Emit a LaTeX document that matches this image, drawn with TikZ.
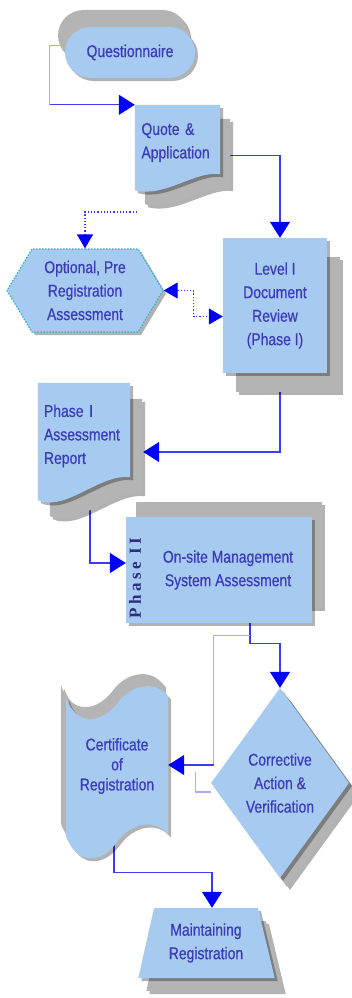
\documentclass[tikz,border=0pt]{standalone}
\usepackage{fontspec}
\setmainfont[FakeStretch=0.82, FakeBold=0.6]{Liberation Sans}
\newfontfamily\phasefont[LetterSpace=20]{Liberation Serif}
\usetikzlibrary{shapes.misc,shapes.symbols,shapes.geometric,shadows,arrows.meta,backgrounds}
\definecolor{skyblue}{HTML}{A6CAF0}
\definecolor{stackgray}{HTML}{B4B4B4}
\definecolor{ink}{HTML}{3C3CB8}
\definecolor{wireblue}{HTML}{3C3CF0}
\definecolor{faintblue}{HTML}{AAAAF5}
\definecolor{dotcyan}{HTML}{30B4C8}
\definecolor{navy}{HTML}{2C2C80}
\pgfdeclarelayer{fills}
\pgfsetlayers{background,fills,main}

\begin{document}
\begin{tikzpicture}[x=1pt, y=-1pt, >={Triangle[length=16pt,width=20pt,color=blue]},
        card/.style 2 args={fill=skyblue, inner sep=0pt, text=ink, align=center,
            font=\fontsize{17}{23.5}\selectfont,
            general shadow={shadow xshift={#1+3pt}, shadow yshift={#2-3pt}, fill=black, opacity=.3},
            general shadow={shadow xshift=#1, shadow yshift=#2, fill=stackgray},
            drop shadow={shadow xshift=3pt, shadow yshift=-3pt, fill=black, opacity=.3}},
        flat/.style={fill=skyblue, inner sep=0pt, text=ink, align=center,
            font=\fontsize{17}{23.5}\selectfont,
            drop shadow={shadow xshift=3pt, shadow yshift=-3pt, fill=black, opacity=.3}},
        doctext/.style={inner sep=0pt, text=ink, align=left, font=\fontsize{17}{23.5}\selectfont},
        wire/.style={draw=wireblue, line width=1.2pt},
        faint/.style={draw=faintblue, line width=1.2pt},
        dotwire/.style={draw=wireblue, line width=1.2pt, dotted, >={Triangle[length=14pt,width=16pt,color=blue]}}]
        \useasboundingbox (0,0) rectangle (351,998);

        \node [card={-7pt}{17pt}, rounded rectangle, minimum width=130pt, minimum height=51pt] (quest) at (130,52.5) {Questionnaire};
        \node [doctext, minimum width=85pt, minimum height=75pt, text width=72pt] (quote) at (177.5,142.5) {Quote \&\\Application};
        \node [flat, signal, signal to=west and east, signal pointer angle=118, minimum width=156pt, minimum height=83pt,
            draw=dotcyan, line width=1.2pt, dash pattern=on 1.5pt off 1.5pt] (pre) at (85,290.5) {Optional, Pre\\Registration\\Assessment};
        \node [card={13pt}{-19pt}, minimum width=104pt, minimum height=135pt] (level) at (275,305.5) {Level I\\Document\\Review\\(Phase I)};
        \node [doctext, minimum width=92pt, minimum height=106pt, text width=80pt] (report) at (84,436) {Phase I\\Assessment\\Report};
        \node [card={10pt}{15pt}, minimum width=186pt, minimum height=106pt] (onsite) at (219,570) {\hspace*{18pt}On-site Management\\\hspace*{18pt}System Assessment};
        \node [rotate=90, text=navy, font=\phasefont\bfseries\fontsize{17}{17}\selectfont] (phase2) at (135,578) {Phase II};
        \node [card={7pt}{-9pt}, diamond, minimum width=138pt, minimum height=190pt] (corr) at (280,783) {Corrective\\Action \&\\Verification};
        \node [doctext, align=center, minimum width=102pt, minimum height=138pt, font=\fontsize{17}{20}\selectfont] (cert) at (117,766) {Certificate\\of\\Registration};
        \node [card={8pt}{-13pt}, trapezium, trapezium left angle=74, trapezium right angle=73, trapezium stretches=true,
            minimum width=137pt, minimum height=70pt] (maint) at (206,943) {Maintaining\\Registration};

        \begin{pgfonlayer}{fills}
            \path [card={10pt}{-14pt}] (quote.north west) -- (quote.north east) -- ([yshift=6pt]quote.south east)
                .. controls +(-25,-4) and +(30,8) .. ([yshift=-10pt]quote.south west) -- cycle;
            \path [card={12pt}{-16pt}] (report.north west) -- (report.north east) -- ([yshift=12pt]report.south east)
                .. controls +(-30,-4) and +(28,12) .. ([yshift=-11pt]report.south west) -- cycle;
            \path [card={-5pt}{12pt}] (cert.north west) .. controls +(10,30) and +(-16,20) .. ([yshift=-7pt]cert.north)
                .. controls +(14,-20) and +(-12,-17) .. (cert.north east) -- (cert.south east)
                .. controls +(-12,-17) and +(14,-20) .. ([yshift=-7pt]cert.south)
                .. controls +(-16,22) and +(10,30) .. (cert.south west) -- cycle;
        \end{pgfonlayer}

        \begin{scope}[on background layer]
            \coordinate (qbend) at ([xshift=-15pt]quest.west |- quote.north west);
            \coordinate (optin) at (137,212);
            \coordinate (retjoin) at ([xshift=3pt,yshift=18pt]corr.west);

            \draw [faint] ([yshift=7pt]quest.west) -| (qbend);
            \draw [wire, ->] (qbend) -- (quote.north west);
            \draw [wire, ->] ([yshift=-13pt]quote.east) -| ([xshift=5pt]level.north);
            \draw [dotwire, ->] (optin) -| (pre.north);
            \draw [dotwire, <->] (pre.east) -- ++(30,0) |- ([yshift=-11pt]level.west);
            \draw [wire, ->] ([xshift=5pt]level.south) |- ([xshift=13pt,yshift=-16pt]report.east);
            \draw [wire, ->] ([xshift=6pt]report.south) |- ([yshift=7pt]onsite.west);
            \draw [wire, ->] ([xshift=31pt]onsite.south) -- ++(0,20) -| (corr.north);
            \draw [faint] ([xshift=31pt,yshift=-12pt]onsite.south) -| (retjoin);
            \draw [wire, ->] (retjoin) -- (retjoin -| cert.east);
            \draw [faint] ([yshift=-9pt]corr.west) -| ([xshift=-15pt,yshift=11pt]corr.west);
            \draw [wire, ->] ([xshift=-3pt]cert.south) -- ++(0,37) -| ([xshift=6pt]maint.north);
        \end{scope}
    \end{tikzpicture}
\end{document}
